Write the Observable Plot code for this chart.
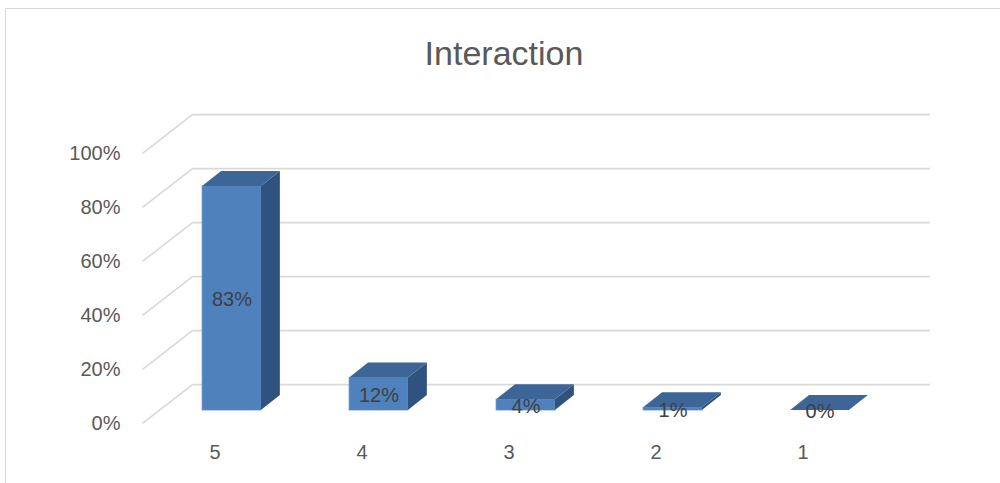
<!DOCTYPE html>
<html>
<head>
<meta charset="utf-8">
<script src="https://cdn.jsdelivr.net/npm/d3@7"></script>
<script src="https://cdn.jsdelivr.net/npm/@observablehq/plot@0.6"></script>
<style>
  html, body { margin: 0; padding: 0; background: #ffffff; }
  #wrap { position: relative; width: 1000px; height: 483px; overflow: hidden; font-family: "Liberation Sans", Arial, sans-serif; }
  #frame { position: absolute; left: 5px; top: 8px; width: 1100px; height: 600px; border: 1px solid #d9d9d9; box-sizing: border-box; }
  #title { position: absolute; left: 0; width: 1008px; top: 32px; text-align: center; font-size: 34px; line-height: 42px; color: #595959; }
  #chart { position: absolute; left: 0; top: 0; }
</style>
</head>
<body>
<div id="wrap">
  <div id="frame"></div>
  <div id="title"></div>
  <div id="chart"></div>
</div>
<script>
// ---- data ----
const titleText = "Interaction";
const categories = ["5", "4", "3", "2", "1"];
const values = [83, 12, 4, 1, 0];           // percent
const yTicks = [0, 20, 40, 60, 80, 100];
const yTickLabels = ["0%", "20%", "40%", "60%", "80%", "100%"];
const valueLabels = ["83%", "12%", "4%", "1%", "0%"];

// ---- 3D geometry (in data units of the bar plane) ----
const HALF_W = 0.2;          // half bar width in category units
const DEPTH_X = 0.129;       // bar depth, x component
const DEPTH_Y = 5.56;        // bar depth, y component
const FRONT_X = -0.116, FRONT_Y = -4.8;   // front plane offset
const BACK_X = 0.224, BACK_Y = 9.6;       // back plane offset
const WALL_LEFT = -0.493;    // left wall (bar plane)
const WALL_RIGHT = 4.528;    // right end of back gridlines (bar plane)

document.getElementById("title").textContent = titleText;

const bars = categories.map((c, i) => ({cat: c, i, v: values[i], label: valueLabels[i]}));
const grid = yTicks.map((t, k) => ({t, label: yTickLabels[k]}));

// side faces: two points per bar
const sidePts = bars.flatMap(b => [
  {i: b.i, x: b.i + HALF_W, y1: 0, y2: b.v},
  {i: b.i, x: b.i + HALF_W + DEPTH_X, y1: DEPTH_Y, y2: b.v + DEPTH_Y}
]);
// top faces
const topPts = bars.flatMap(b => [
  {i: b.i, y: b.v, x1: b.i - HALF_W, x2: b.i + HALF_W},
  {i: b.i, y: b.v + DEPTH_Y, x1: b.i - HALF_W + DEPTH_X, x2: b.i + HALF_W + DEPTH_X}
]);

const chart = Plot.plot({
  width: 1000,
  height: 483,
  marginLeft: 84.5,
  marginRight: 33.5,
  marginTop: 86,
  marginBottom: 46,
  x: {type: "linear", domain: [-1, 5], axis: null},
  y: {type: "linear", domain: [-10, 120], axis: null},
  style: {fontFamily: "'Liberation Sans', Arial, sans-serif", background: "transparent", overflow: "visible"},
  marks: [
    // back wall gridlines
    Plot.ruleY(grid, {y: d => d.t + BACK_Y, x1: WALL_LEFT + BACK_X, x2: WALL_RIGHT + BACK_X, stroke: "#d9d9d9", strokeWidth: 1.6}),
    // side wall diagonals
    Plot.link(grid, {
      x1: WALL_LEFT + FRONT_X, y1: d => d.t + FRONT_Y,
      x2: WALL_LEFT + BACK_X, y2: d => d.t + BACK_Y,
      stroke: "#d9d9d9", strokeWidth: 1.6
    }),
    // y tick labels
    Plot.text(grid, {
      x: WALL_LEFT + FRONT_X, y: d => d.t + FRONT_Y, text: "label",
      textAnchor: "end", dx: -22, fontSize: 20, fill: "#595959"
    }),
    // bar front faces
    Plot.rect(bars, {x1: d => d.i - HALF_W, x2: d => d.i + HALF_W, y1: 0, y2: "v", fill: "#4f81bd", stroke: "#5a8ac4", strokeWidth: 0.8}),
    // bar side faces
    Plot.areaY(sidePts, {x: "x", y1: "y1", y2: "y2", z: "i", fill: "#30527f"}),
    // bar top faces
    Plot.areaX(topPts, {y: "y", x1: "x1", x2: "x2", z: "i", fill: "#3d6598"}),
    // value labels
    Plot.text(bars, {x: "i", y: d => d.v / 2, text: "label", fontSize: 20, fill: "#404040", dy: 1}),
    // category labels
    Plot.text(bars, {x: d => d.i + FRONT_X, y: FRONT_Y, text: "cat", dy: 29, fontSize: 20, fill: "#595959"})
  ]
});
document.getElementById("chart").appendChild(chart);
</script>
</body>
</html>
